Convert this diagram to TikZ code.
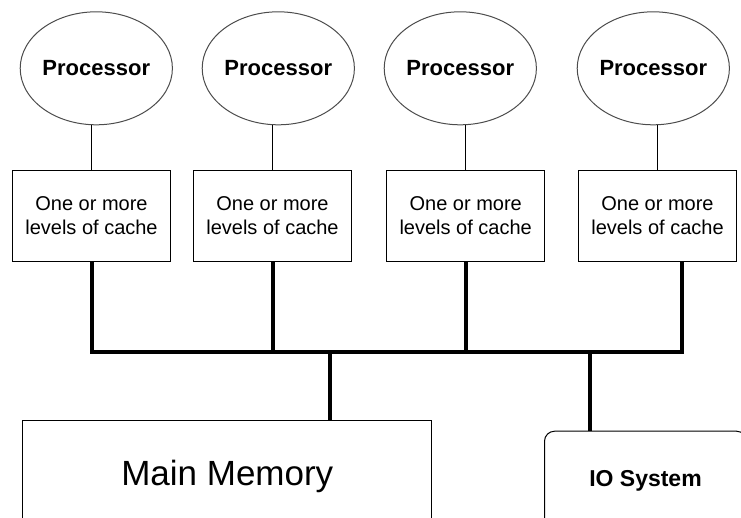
\documentclass[tikz,border=0pt]{standalone}
\usepackage{fontspec}
\setmainfont{Liberation Sans}
\usepackage{tikz}
\usetikzlibrary{positioning,shapes.geometric}

\begin{document}
\begin{tikzpicture}[x=1pt, y=-1pt,
        cpu/.style={draw=black!70, ellipse, line width=1pt, minimum width=147pt, minimum height=113pt, inner sep=0pt, font=\fontsize{22}{26}\selectfont\bfseries},
        cache/.style={draw, rectangle, line width=1pt, minimum width=158pt, minimum height=91pt, inner sep=0pt, align=center, font=\fontsize{20}{24}\selectfont},
        link/.style={line width=1pt},
        bus/.style={line width=4pt, line join=miter}]
        \useasboundingbox (0,0) rectangle (741,517);

        \node[cpu] (cpu1) at (96.3,68.3) {Processor};
        \node[cpu] (cpu2) at (278.3,68.3) {Processor};
        \node[cpu] (cpu3) at (460.3,68.3) {Processor};
        \node[cpu] (cpu4) at (653.3,68.3) {Processor};

        \node[cache] (cache1) at (91.5,216) {One or more\\levels of cache};
        \node[cache] (cache2) at (272.5,216) {One or more\\levels of cache};
        \node[cache] (cache3) at (465.7,216) {One or more\\levels of cache};
        \node[cache] (cache4) at (657.5,216) {One or more\\levels of cache};

        \node[draw, rectangle, line width=1pt, anchor=north west, minimum width=409pt, minimum height=112pt, inner sep=0pt, font=\fontsize{35}{42}\selectfont] (memory) at (22.3,420) {Main Memory};
        \node[draw, rectangle, rounded corners=10pt, line width=1pt, anchor=north west, minimum width=202pt, minimum height=100pt, inner sep=0pt, font=\fontsize{23}{28}\selectfont\bfseries] (io) at (544,430.7) {IO System};

        \draw[link] (cache1.north) -- (cache1.north |- cpu1.south);
        \draw[link] (cache2.north) -- (cache2.north |- cpu2.south);
        \draw[link] (cache3.north) -- (cache3.north |- cpu3.south);
        \draw[link] (cache4.north) -- (cache4.north |- cpu4.south);

        % system bus
        \coordinate (busR) at (681.5,351.7);
        \coordinate (memtap) at (330,351.7);
        \coordinate (iotap) at (590,351.7);
        \draw[bus] (cache1.south) |- (busR) -- (cache4.south -| busR);
        \draw[bus] (cache2.south) -- (cache2.south |- busR);
        \draw[bus] (cache3.south) -- (cache3.south |- busR);
        \draw[bus] (memtap) -- (memtap |- memory.north);
        \draw[bus] (iotap) -- (iotap |- io.north);
    \end{tikzpicture}
\end{document}
